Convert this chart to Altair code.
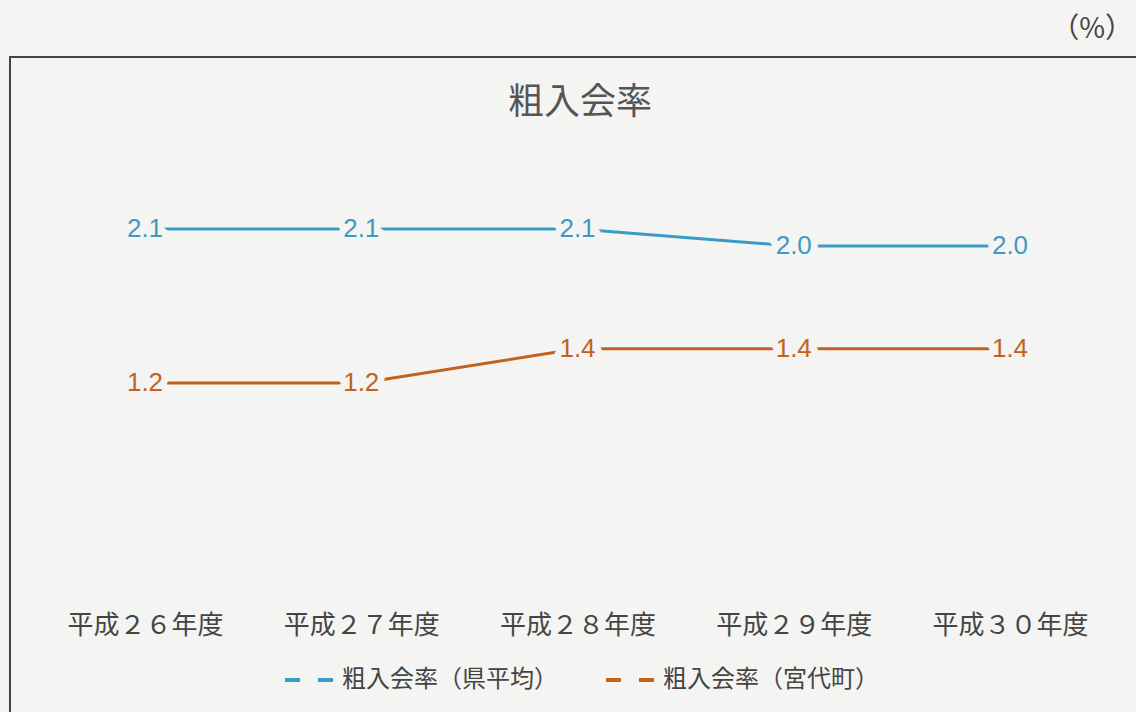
import altair as alt
import pandas as pd

# ---- data ----
years = ["平成２６年度", "平成２７年度", "平成２８年度", "平成２９年度", "平成３０年度"]
series_names = ["粗入会率（県平均）", "粗入会率（宮代町）"]
pref_avg = [2.1, 2.1, 2.1, 2.0, 2.0]
miyashiro = [1.2, 1.2, 1.4, 1.4, 1.4]
title_text = "粗入会率"
unit_text = "（%）"

rows = []
for s, vals in zip(series_names, [pref_avg, miyashiro]):
    for y, v in zip(years, vals):
        rows.append({"year": y, "series": s, "value": v, "label": f"{v:.1f}"})
df = pd.DataFrame(rows)

BG = "#f4f4f2"
BLUE = "#3a9cc4"
ORANGE = "#c2621c"
W, H = 1127, 656
JP = "Noto Sans CJK JP"

x_enc = alt.X("year:N", sort=years,
              scale=alt.Scale(domain=years, range=[136, 1001], padding=0),
              axis=alt.Axis(title=None, orient="bottom", offset=-100, domain=False,
                            ticks=False, labelPadding=0, labelAngle=0,
                            labelFont=JP, labelFontSize=26, labelColor="#444",
                            labelLimit=300, grid=False))
y_enc = alt.Y("value:Q", scale=alt.Scale(domain=[-0.723, 3.111], nice=False, zero=False),
              axis=None)
color_enc = alt.Color("series:N", sort=series_names,
                      scale=alt.Scale(domain=series_names, range=[BLUE, ORANGE]),
                      legend=alt.Legend(title=None, orient="none", legendX=274, legendY=596,
                                        direction="horizontal", symbolType="stroke",
                                        symbolSize=2704, symbolStrokeWidth=4,
                                        symbolDash=[15, 18], columnPadding=40,
                                        labelOffset=3, labelFont=JP, labelFontSize=24,
                                        labelColor="#444", labelLimit=400))

base = alt.Chart(df)

lines = base.mark_line(strokeWidth=3).encode(x=x_enc, y=y_enc, color=color_enc)

halo = base.mark_text(fontSize=26, font="Liberation Sans", stroke=BG, strokeWidth=14,
                      strokeJoin="round", fill=BG, baseline="middle").encode(
    x=alt.X("year:N", sort=years), y="value:Q", text="label:N")

labels = base.mark_text(fontSize=26, font="Liberation Sans", baseline="middle").encode(
    x=alt.X("year:N", sort=years), y="value:Q", text="label:N",
    color=alt.Color("series:N", sort=series_names))

frame_top = alt.Chart(pd.DataFrame({"k": [0]})).mark_rule(color="#444", strokeWidth=2).encode(
    x=alt.value(0), x2=alt.value(W), y=alt.value(1))
frame_left = alt.Chart(pd.DataFrame({"k": [0]})).mark_rule(color="#444", strokeWidth=2).encode(
    x=alt.value(1), y=alt.value(0), y2=alt.value(H))

title_mark = alt.Chart(pd.DataFrame({"t": [title_text]})).mark_text(
    font=JP, fontSize=36, color="#555", baseline="middle", align="center").encode(
    text="t:N", x=alt.value(571), y=alt.value(47))
unit_mark = alt.Chart(pd.DataFrame({"t": [unit_text]})).mark_text(
    font=JP, fontSize=28, color="#444", baseline="middle", align="right").encode(
    text="t:N", x=alt.value(1124), y=alt.value(-26))

chart = alt.layer(frame_top, frame_left, lines, halo, labels, title_mark, unit_mark).resolve_scale(
    x="shared", y="shared").properties(
    width=W, height=H,
    autosize=alt.AutoSizeParams(type="none"),
    padding={"left": 9, "top": 56, "right": 0, "bottom": 0},
).configure(background=BG).configure_view(strokeWidth=0)

chart.save("out.html", embed_options={"renderer": "svg", "actions": False})
